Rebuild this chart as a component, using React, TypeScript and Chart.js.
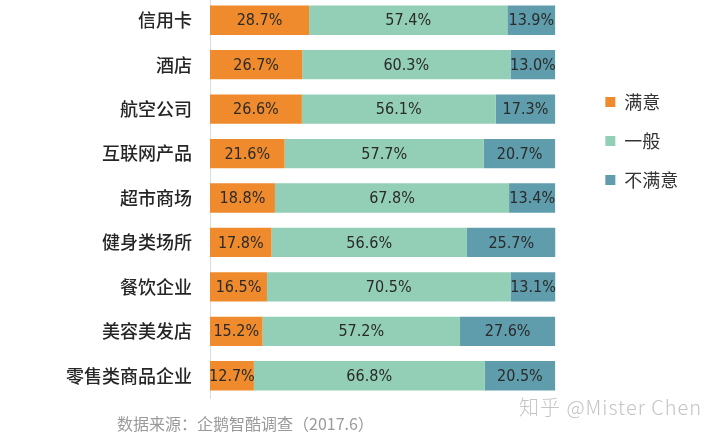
import { useEffect, useRef } from 'react'
import { Chart, registerables } from 'chart.js'

Chart.register(...registerables)

const categories = ['信用卡', '酒店', '航空公司', '互联网产品', '超市商场', '健身类场所', '餐饮企业', '美容美发店', '零售类商品企业']
const satisfied = [28.7, 26.7, 26.6, 21.6, 18.8, 17.8, 16.5, 15.2, 12.7]
const neutral = [57.4, 60.3, 56.1, 57.7, 67.8, 56.6, 70.5, 57.2, 66.8]
const unsatisfied = [13.9, 13.0, 17.3, 20.7, 13.4, 25.7, 13.1, 27.6, 20.5]
const seriesNames = ['满意', '一般', '不满意']
const seriesColors = ['#ef8b2c', '#93cfb6', '#5f9dac']

const CJK = "'Noto Sans CJK SC', 'Noto Sans', sans-serif"
const NARROW = "'Liberation Sans Narrow', 'DejaVu Sans Condensed', sans-serif"

// percentage text centred in every segment
const segmentLabels = {
  id: 'segmentLabels',
  afterDatasetsDraw(chart: any) {
    const { ctx } = chart
    ctx.save()
    ctx.font = `16px ${NARROW}`
    ctx.fillStyle = '#2a2a2a'
    ctx.textAlign = 'center'
    ctx.textBaseline = 'middle'
    chart.data.datasets.forEach((ds: any, i: number) => {
      chart.getDatasetMeta(i).data.forEach((bar: any, j: number) => {
        const { x, y, base } = bar.getProps(['x', 'y', 'base'], true)
        ctx.fillText(ds.data[j].toFixed(1) + '%', (x + base) / 2, y + 1)
      })
    })
    ctx.restore()
  },
}

function SatisfactionChart() {
  const canvasRef = useRef<HTMLCanvasElement>(null)

  useEffect(() => {
    if (!canvasRef.current) return
    const chart = new Chart(canvasRef.current, {
      type: 'bar',
      data: {
        labels: categories,
        datasets: [satisfied, neutral, unsatisfied].map((values, i) => ({
          label: seriesNames[i],
          data: values,
          backgroundColor: seriesColors[i],
          borderWidth: 0,
          barPercentage: 0.66,
          categoryPercentage: 1,
        })),
      },
      options: {
        indexAxis: 'y',
        responsive: false,
        animation: false,
        layout: { padding: { left: 66, right: 32, top: 0, bottom: 36 } },
        scales: {
          x: { stacked: true, min: 0, max: 100, display: false },
          y: {
            stacked: true,
            grid: { display: false, drawTicks: false },
            border: { display: true, color: '#dcdcdc', width: 1 },
            ticks: { padding: 18, color: '#262626', font: { family: CJK, size: 18, weight: 500 } },
            afterFit: (s: any) => {
              s.width = 144
              s.paddingTop = 0
              s.paddingBottom = 0
            },
          },
          y2: {
            type: 'category',
            position: 'right',
            grid: { display: false, drawTicks: false },
            border: { display: false },
            ticks: { display: false },
            afterFit: (s: any) => {
              s.width = 29
              s.paddingTop = 0
              s.paddingBottom = 0
            },
          },
        },
        plugins: {
          tooltip: { enabled: false },
          legend: {
            position: 'right',
            align: 'start',
            title: { display: true, text: '', font: { size: 12, lineHeight: 1 }, padding: { top: 62, bottom: 0 } },
            labels: {
              boxWidth: 10,
              boxHeight: 10,
              padding: 21,
              color: '#333',
              font: { family: CJK, size: 18 },
            },
          },
        },
      },
      plugins: [segmentLabels],
    })
    return () => chart.destroy()
  }, [])

  return (
    <canvas
      ref={canvasRef}
      width={720}
      height={436}
      style={{ position: 'absolute', left: 0, top: -2, width: 720, height: 436 }}
    />
  )
}

export default function App() {
  return (
    <div style={{ position: 'absolute', left: 0, top: 0, width: 720, height: 436, background: '#fff', overflow: 'hidden' }}>
      <SatisfactionChart />
      <div
        style={{
          position: 'absolute',
          left: 117,
          top: 415,
          fontFamily: CJK,
          fontSize: 16,
          lineHeight: '16px',
          color: '#9a9a9a',
          whiteSpace: 'nowrap',
        }}
      >
        数据来源：企鹅智酷调查（2017.6）
      </div>
      <div
        style={{
          position: 'absolute',
          left: 519,
          top: 397,
          fontFamily: CJK,
          fontWeight: 300,
          fontSize: 20,
          lineHeight: '20px',
          letterSpacing: 1,
          color: '#c4c4c4',
          whiteSpace: 'nowrap',
        }}
      >
        知乎 @Mister Chen
      </div>
    </div>
  )
}
